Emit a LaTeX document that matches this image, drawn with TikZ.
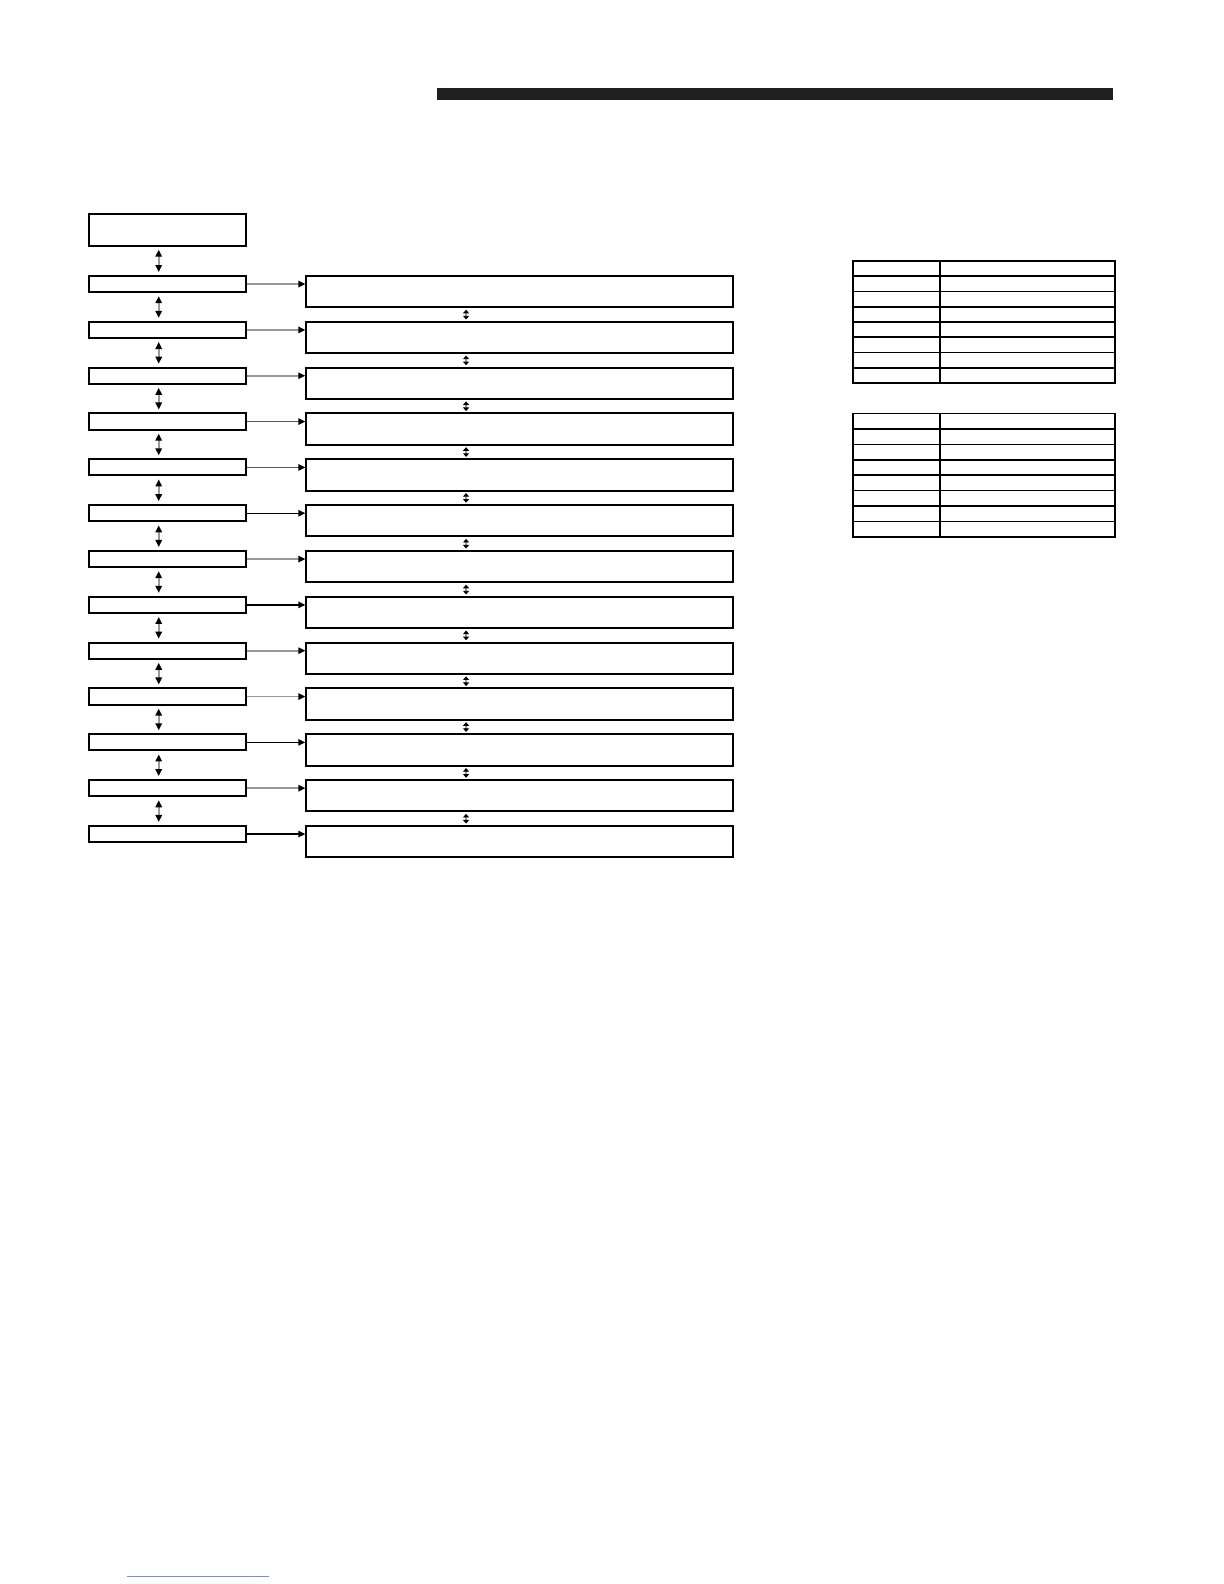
\documentclass[tikz,border=0pt]{standalone}
\usetikzlibrary{arrows.meta}
\definecolor{linegray}{gray}{0.6}
\definecolor{darkgray2}{gray}{0.35}
\definecolor{barblack}{rgb}{0.13,0.12,0.13}
\definecolor{faintblue}{rgb}{0.45,0.55,0.9}
\tikzset{
  smallbox/.style={draw, line width=1pt, minimum width=78.35pt, minimum height=8.09pt, inner sep=0pt, fill=white},
  bigbox/.style={draw, line width=1pt, minimum width=213.3pt, minimum height=15.67pt, inner sep=0pt, fill=white},
  topbox/.style={draw, line width=1pt, minimum width=78.35pt, minimum height=15.67pt, inner sep=0pt, fill=white},
  vlink/.style={line width=0.9pt, draw=linegray, {Triangle[length=3.5pt,width=3.2pt,fill=black,color=black]}-{Triangle[length=3.5pt,width=3.2pt,fill=black,color=black]}},
  blink/.style={line width=0.7pt, draw=linegray, {Triangle[length=1.8pt,width=3pt,fill=black,color=black]}-{Triangle[length=1.8pt,width=3pt,fill=black,color=black]}},
  hgray/.style={line width=0.8pt, draw=linegray, -{Triangle[length=3.5pt,width=3.2pt,fill=black,color=black]}},
  hdark/.style={line width=0.8pt, draw=darkgray2, -{Triangle[length=3.5pt,width=3.2pt,fill=black,color=black]}},
  hblack/.style={line width=0.7pt, draw=black, -{Triangle[length=3.5pt,width=3.2pt,fill=black,color=black]}},
  tabline/.style={line width=0.8pt, draw=black}
}
\begin{document}
\begin{tikzpicture}[x=0.5055pt,y=-0.5055pt]
\useasboundingbox (0,0) rectangle (1210.7,1566.8);
% top bar
\fill[barblack] (432,87) rectangle (1101,99);
% top left box
\node[topbox] (top) at (165.5,227.5) {};
\coordinate (ax) at (157,0);
\coordinate (bx) at (461,0);
% rows
\foreach \i in {0,...,12}{
  \pgfmathsetmacro{\t}{273+45.33*\i}
  \node[smallbox] (s\i) at (165.5,\t+8) {};
  \node[bigbox] (b\i) at (514,\t+15.5) {};
}
% horizontal arrows
\foreach \i/\st in {0/hgray,1/hgray,2/hgray,3/hdark,4/hdark,5/hblack,6/hgray,7/hblack,8/hgray,9/hgray,10/hblack,11/hgray,12/hblack}{
  \draw[\st] (s\i.east) -- (s\i.east -| b\i.west);
}
% vertical arrows left
\draw[vlink] ([yshift=-1.5pt]top.south -| ax) -- ([yshift=1.5pt]s0.north -| ax);
\foreach \i [evaluate=\i as \j using int(\i+1)] in {0,...,11}{
  \draw[vlink] ([yshift=-1.5pt]s\i.south -| ax) -- ([yshift=1.5pt]s\j.north -| ax);
  \draw[blink] ([yshift=-0.7pt]b\i.south -| bx) -- ([yshift=0.7pt]b\j.north -| bx);
}
% table 1
\draw[tabline] (844,258) rectangle (1103,379);
\draw[tabline] (930,258) -- (930,379);
\foreach \k in {1,...,7}{
  \draw[tabline] (844,258+15.125*\k) -- (1103,258+15.125*\k);
}
% table 2
\draw[tabline] (844,409) rectangle (1103,531);
\draw[tabline] (930,409) -- (930,531);
\foreach \k in {1,...,7}{
  \draw[tabline] (844,409+15.25*\k) -- (1103,409+15.25*\k);
}
% faint bottom line
\draw[faintblue, line width=0.5pt] (126,1559) -- (266,1559);
\end{tikzpicture}
\end{document}
